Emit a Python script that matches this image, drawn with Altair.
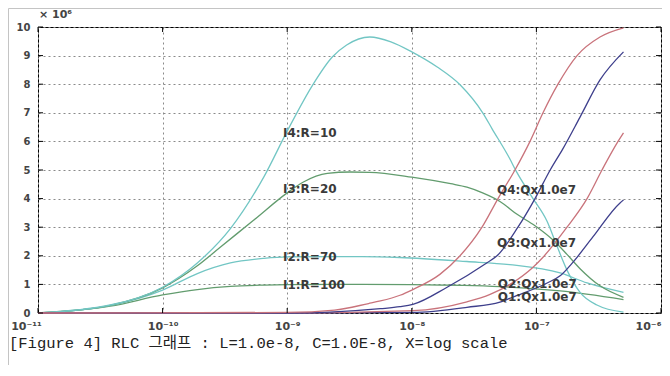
import altair as alt
import pandas as pd

# ---- data (y in units of 10^6) ----
I4_x = [1e-11, 3.8e-11, 1e-10, 1.9e-10, 3.5e-10, 6.5e-10, 1e-9, 1.6e-9, 2.3e-9, 3.0e-9, 4.6e-9, 6.8e-9, 1e-8,
        1.6e-8, 2.45e-8, 3.72e-8, 4.41e-8, 6.1e-8, 6.9e-8, 9.2e-8, 1.22e-7, 1.46e-7, 1.76e-7, 2.24e-7, 3.06e-7, 5e-7]
I4_y = [0, 0.28, 0.9, 1.75, 2.95, 4.76, 6.36, 7.97, 8.95, 9.37, 9.65, 9.48, 9.13,
        8.6, 7.97, 6.99, 6.44, 5.4, 4.95, 4.06, 3.2, 2.35, 1.5, 0.72, 0.28, 0.03]

I3_x = [1e-11, 3.8e-11, 1e-10, 1.9e-10, 2.9e-10, 5.4e-10, 1e-9, 1.35e-9, 2.1e-9, 3.2e-9, 4.6e-9, 1e-8,
        2.05e-8, 2.77e-8, 3.7e-8, 5.1e-8, 7e-8, 9.75e-8, 1.36e-7, 1.76e-7, 2.24e-7, 3.24e-7, 5e-7]
I3_y = [0, 0.27, 0.88, 1.65, 2.3, 3.25, 4.2, 4.58, 4.88, 4.93, 4.92, 4.75,
        4.52, 4.4, 4.2, 3.9, 3.45, 3.05, 2.55, 2.05, 1.55, 0.95, 0.55]

I2_x = [1e-11, 3.8e-11, 1e-10, 1.9e-10, 3.5e-10, 6.5e-10, 1e-9, 4e-9, 8e-9, 2.77e-8, 6.1e-8, 1.55e-7, 2.55e-7, 5e-7]
I2_y = [0, 0.26, 0.8, 1.38, 1.75, 1.91, 1.96, 1.97, 1.94, 1.8, 1.69, 1.4, 1.05, 0.72]

I1_x = [1e-11, 3.8e-11, 1e-10, 1.9e-10, 3.5e-10, 6.5e-10, 1e-9, 4e-9, 1e-8, 5.1e-8, 1.55e-7, 5e-7]
I1_y = [0, 0.24, 0.63, 0.82, 0.93, 0.975, 0.99, 1.0, 0.99, 0.92, 0.77, 0.47]

Q4_x = [1e-11, 1e-9, 2.4e-9, 4.5e-9, 5.6e-9, 8.04e-9, 1.02e-8, 1.68e-8, 2.44e-8, 3.66e-8, 4.92e-8, 6.73e-8,
        8.89e-8, 1.13e-7, 1.49e-7, 2.12e-7, 3.24e-7, 5e-7]
Q4_y = [0, 0.02, 0.1, 0.33, 0.42, 0.62, 0.82, 1.35, 2.0, 3.0, 4.0, 5.0,
        6.0, 7.0, 8.0, 9.0, 9.65, 9.97]

Q3_x = [1e-11, 1e-9, 2.2e-9, 5.6e-9, 8.04e-9, 1.02e-8, 1.92e-8, 4.02e-8, 4.83e-8, 7.11e-8, 9.75e-8, 1.29e-7,
        1.63e-7, 2.24e-7, 3.24e-7, 5e-7]
Q3_y = [0, 0.0, 0.03, 0.15, 0.22, 0.3, 0.9, 1.76, 2.0, 3.0, 4.0, 5.0,
        5.74, 6.85, 8.15, 9.13]

Q2_x = [1e-11, 1e-9, 1.02e-8, 2.77e-8, 4.25e-8, 6.14e-8, 9.4e-8, 1.13e-7, 1.76e-7, 2.55e-7, 3.36e-7, 4.52e-7, 5e-7]
Q2_y = [0, 0.0, 0.08, 0.39, 0.65, 1.0, 1.6, 1.95, 3.0, 4.0, 5.0, 6.0, 6.3]

Q1_x = [1e-11, 1e-9, 1.02e-8, 2.77e-8, 5.1e-8, 6.5e-8, 1.22e-7, 1.55e-7, 1.97e-7, 2.84e-7, 4.69e-7, 5e-7]
Q1_y = [0, 0.0, 0.02, 0.2, 0.38, 0.56, 1.05, 1.3, 1.78, 2.66, 3.85, 3.95]

series_names = ["I1", "I2", "I3", "I4", "Q1", "Q2", "Q3", "Q4"]
series_colors = ["#629c6e", "#72c6c4", "#629c6e", "#72c6c4", "#3e3f8c", "#c9737b", "#3e3f8c", "#c9737b"]

label_text = ["I4:R=10", "I3:R=20", "I2:R=70", "I1:R=100",
              "Q4:Qx1.0e7", "Q3:Qx1.0e7", "Q2:Qx1.0e7", "Q1:Qx1.0e7"]
label_x = [9.25e-10, 9.25e-10, 9.25e-10, 9.25e-10, 4.83e-8, 4.83e-8, 4.9e-8, 4.9e-8]
label_y = [6.3, 4.34, 1.96, 0.98, 4.3, 2.45, 1.01, 0.56]

x_ticks = [1e-11, 1e-10, 1e-9, 1e-8, 1e-7, 1e-6]
x_tick_labels = ["10\u207b\u00b9\u00b9", "10\u207b\u00b9\u2070", "10\u207b\u2079",
                 "10\u207b\u2078", "10\u207b\u2077", "10\u207b\u2076"]
y_ticks = [0, 1, 2, 3, 4, 5, 6, 7, 8, 9, 10]
y_multiplier = "\u00d7 10\u2076"
caption = "[Figure 4] RLC 그래프 : L=1.0e-8, C=1.0E-8, X=log scale"

# ---- build table ----
all_series = {
    "I1": (I1_x, I1_y), "I2": (I2_x, I2_y), "I3": (I3_x, I3_y), "I4": (I4_x, I4_y),
    "Q1": (Q1_x, Q1_y), "Q2": (Q2_x, Q2_y), "Q3": (Q3_x, Q3_y), "Q4": (Q4_x, Q4_y),
}
rows = []
for name in series_names:
    xs, ys = all_series[name]
    for i, (a, b) in enumerate(zip(xs, ys)):
        rows.append({"series": name, "x": a, "y": b, "i": i})
df = pd.DataFrame(rows)
lab_df = pd.DataFrame({"t": label_text, "x": label_x, "y": label_y})

W, H = 623, 286
xscale = alt.Scale(type="log", domain=[1e-11, 1e-6], nice=False)
yscale = alt.Scale(domain=[0, 10], nice=False, zero=False)

label_array = "[" + ",".join("'%s'" % s for s in x_tick_labels) + "]"
xaxis = alt.Axis(values=x_ticks, labelExpr=label_array + "[round(log(datum.value)/LN10)+11]",
                 grid=True, gridDash=[2, 3], gridColor="#8a8a8a", gridWidth=1,
                 domain=False, ticks=False, labelPadding=7, labelFontSize=11,
                 labelFont="DejaVu Sans", labelFontWeight="bold", labelColor="#444",
                 labelAlign={"condition": {"test": "datum.value > 5e-7", "value": "right"},
                             "value": "center"},
                 labelOffset={"condition": {"test": "datum.value < 2e-11", "value": -12},
                              "value": 0},
                 title=None, labelFlush=False, labelOverlap=False)
yaxis = alt.Axis(values=y_ticks, grid=True, gridDash=[2, 3], gridColor="#8a8a8a", gridWidth=1,
                 domain=False, ticks=False, labelPadding=8, labelFontSize=10,
                 labelFont="DejaVu Sans", labelFontWeight="bold", labelColor="#444",
                 title=None, labelFlush=False, labelOverlap=False)

lines = alt.Chart(df).mark_line(strokeWidth=1.3, interpolate="monotone").encode(
    x=alt.X("x:Q", scale=xscale, axis=xaxis),
    y=alt.Y("y:Q", scale=yscale, axis=yaxis),
    color=alt.Color("series:N", scale=alt.Scale(domain=series_names, range=series_colors), legend=None),
    detail="series:N",
    order="i:Q",
)

labels = alt.Chart(lab_df).mark_text(align="left", baseline="middle", font="DejaVu Sans",
                                     fontSize=12, fontWeight="bold", color="#3a3a3a").encode(
    x=alt.X("x:Q", scale=xscale, axis=xaxis),
    y=alt.Y("y:Q", scale=yscale, axis=yaxis),
    text="t:N",
)

ydf = pd.DataFrame({"v": y_ticks})
xdf = pd.DataFrame({"x": x_ticks})
ytick_l = alt.Chart(ydf).mark_rule(color="black").encode(
    y=alt.Y("v:Q", scale=yscale, axis=yaxis), x=alt.value(0), x2=alt.value(5))
ytick_r = alt.Chart(ydf).mark_rule(color="black").encode(
    y=alt.Y("v:Q", scale=yscale, axis=yaxis), x=alt.value(W - 5), x2=alt.value(W))
xtick_t = alt.Chart(xdf).mark_rule(color="black").encode(
    x=alt.X("x:Q", scale=xscale, axis=xaxis), y=alt.value(0), y2=alt.value(5))
xtick_b = alt.Chart(xdf).mark_rule(color="black").encode(
    x=alt.X("x:Q", scale=xscale, axis=xaxis), y=alt.value(H - 5), y2=alt.value(H))

mult = alt.Chart(pd.DataFrame({"t": [y_multiplier]})).mark_text(
    align="left", baseline="alphabetic", font="DejaVu Sans", fontSize=11, fontWeight="bold",
    color="#444").encode(x=alt.value(1), y=alt.value(-9), text="t:N")

cap = alt.Chart(pd.DataFrame({"t": [caption]})).mark_text(
    align="left", baseline="alphabetic", font="Liberation Mono, Noto Sans CJK KR", fontSize=15.5,
    color="#222").encode(x=alt.value(-29), y=alt.value(321), text="t:N")

border_top = alt.Chart(pd.DataFrame({"t": [0]})).mark_rule(color="#c4c4c4").encode(
    x=alt.value(-29.5), x2=alt.value(W + 1), y=alt.value(-18.5))
border_left = alt.Chart(pd.DataFrame({"t": [0]})).mark_rule(color="#c4c4c4").encode(
    x=alt.value(-29.5), y=alt.value(-18.5), y2=alt.value(H + 55))

chart = alt.layer(border_top, border_left, lines, ytick_l, ytick_r, xtick_t, xtick_b,
                  labels, mult, cap).properties(
    width=W, height=H,
    padding={"left": 30, "top": 19, "right": 1, "bottom": 52},
    autosize=alt.AutoSizeParams(type="none"),
    background="white",
).configure_view(stroke="black", strokeWidth=1)

chart.save("out.html", embed_options={"renderer": "svg", "actions": False})
